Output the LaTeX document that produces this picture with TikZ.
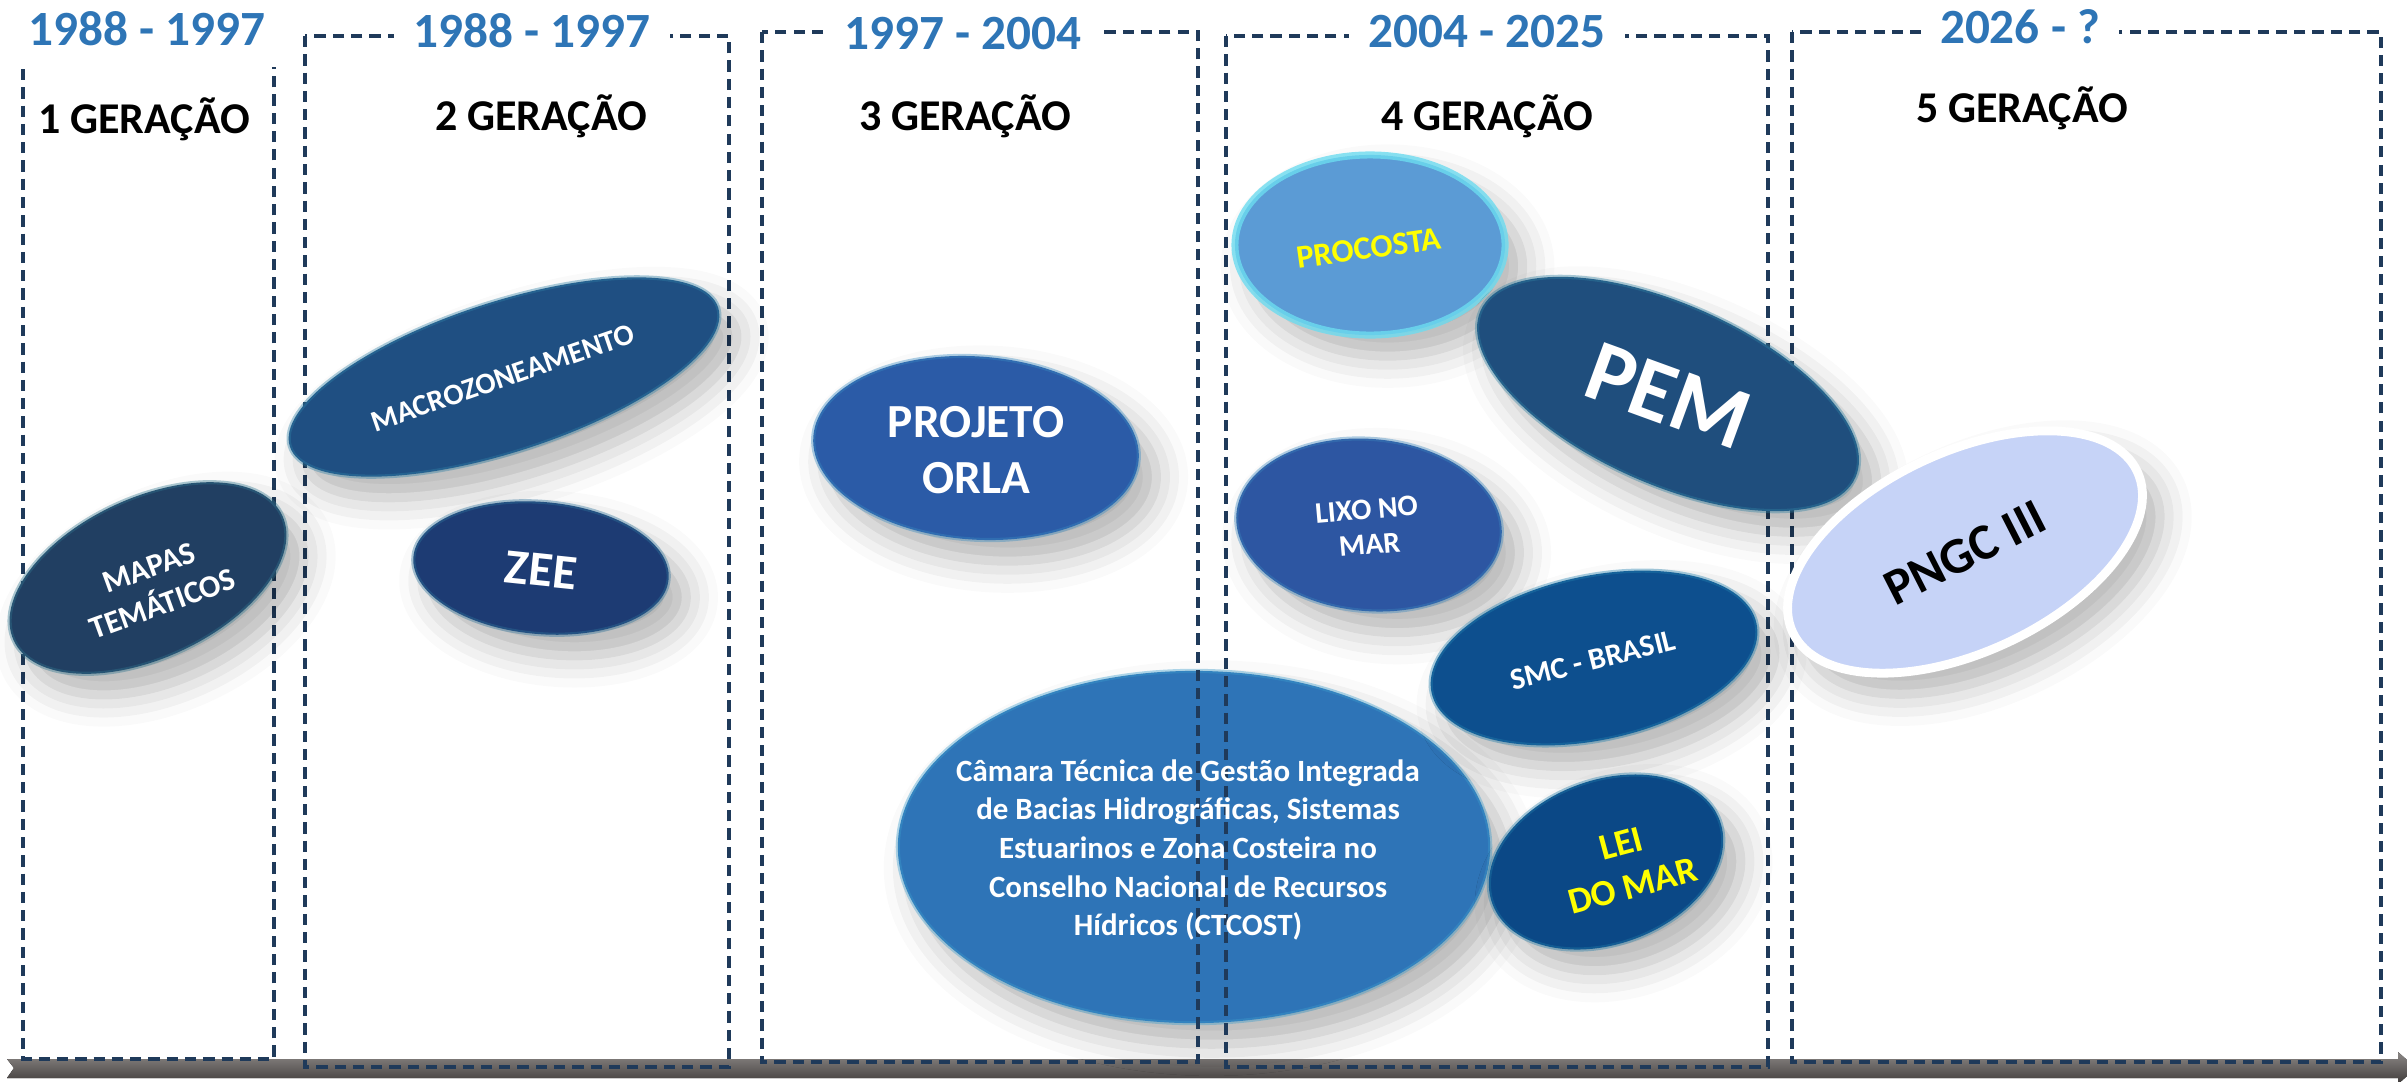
\documentclass[tikz,border=0pt]{standalone}
\usepackage{fontspec}
\setmainfont{Carlito}
\usetikzlibrary{shapes.geometric,shadows.blur}

\definecolor{cperiodo}{HTML}{2E75B6}
\definecolor{ctracejado}{HTML}{1F3A5A}
\definecolor{cmapas}{HTML}{213F62}
\definecolor{cmacro}{HTML}{1F4F82}
\definecolor{czee}{HTML}{1D3B73}
\definecolor{corla}{HTML}{2B5BA7}
\definecolor{cprocosta}{HTML}{5B9BD5}
\definecolor{cpem}{HTML}{1F4E7D}
\definecolor{clixo}{HTML}{2D56A2}
\definecolor{csmc}{HTML}{0D4F8E}
\definecolor{cctcost}{HTML}{2E74B7}
\definecolor{clei}{HTML}{0B4886}
\definecolor{cpngc}{HTML}{C6D3F7}
\definecolor{amarelo}{HTML}{FFFF00}
\definecolor{barra1}{HTML}{8C8886}
\definecolor{barra2}{HTML}{4E4947}
\definecolor{barra3}{HTML}{3E3A39}

\tikzset{
  caixa/.style={draw=ctracejado, line width=0.9pt, dash pattern=on 3.2pt off 2pt},
  periodo/.style={font=\bfseries\fontsize{14}{17}\selectfont, text=cperiodo,
    fill=white, inner xsep=5.5pt, inner ysep=1pt, anchor=base},
  geracao/.style={font=\bfseries\fontsize{12.5}{15}\selectfont, anchor=base},
  bolha/.style={ellipse, fill=#1, draw=#1!80!cyan!90!white, draw opacity=0.4, line width=1.2pt, inner sep=0pt,
    blur shadow={shadow xshift=5pt, shadow yshift=-6pt, shadow blur radius=9pt, shadow opacity=30}},
  rotulo/.style={text=white, align=center, inner sep=0pt},
}

\begin{document}
\begin{tikzpicture}[x=0.01cm, y=-0.01cm]
    \clip (0,0) rectangle (2407,1081);

    % 时间轴
    \fill[top color=barra1, middle color=barra2, bottom color=barra3]
        (7,1059) -- (2398,1059) -- (2398,1052) -- (2416,1068) -- (2398,1084)
        -- (2398,1078) -- (7,1078) -- (14,1068) -- cycle;

    % 大椭圆（虚线在上面）
    \node[bolha=cctcost, minimum width=5.92cm, minimum height=3.52cm] (ctcost) at (1194,847) {};

    % 第1代
    \draw[caixa] (23,69) -- (23,1059) -- (274,1059) -- (274,67);
    \node[periodo, fill=none] (p1) at (147,45) {1988 - 1997};
    \node[geracao] (g1) at (144,133) {1 GERAÇÃO};

    % 第2代
    \draw[caixa] (305,36) rectangle (729,1067);
    \node[periodo] (p2) at (532,47) {1988 - 1997};
    \node[geracao] (g2) at (541,130) {2 GERAÇÃO};

    % 第3代
    \draw[caixa] (762,32) rectangle (1198,1062);
    \node[periodo] (p3) at (963,49) {1997 - 2004};
    \node[geracao] (g3) at (965,130) {3 GERAÇÃO};

    % 第4代
    \draw[caixa] (1226,36) rectangle (1768,1067);
    \node[periodo] (p4) at (1487,47) {2004 - 2025};
    \node[geracao] (g4) at (1487,130) {4 GERAÇÃO};

    % 第5代
    \draw[caixa] (1792,32) rectangle (2381,1062);
    \node[periodo] (p5) at (2020,43) {2026 - ?};
    \node[geracao] (g5) at (2022,122) {5 GERAÇÃO};

    % 椭圆
    \node[bolha=cmapas, minimum width=2.96cm, minimum height=1.6cm, rotate=25] (mapas) at (148,578) {};
    \node[bolha=cmacro, minimum width=4.5cm, minimum height=1.5cm, rotate=18] (macro) at (504,377) {};
    \node[bolha=czee, minimum width=2.56cm, minimum height=1.32cm, rotate=-5] (zee) at (541,568) {};
    \node[bolha=corla, minimum width=3.26cm, minimum height=1.83cm, rotate=-4] (orla) at (976,448) {};
    \node[bolha=cprocosta, draw=cprocosta!50!cyan!70!white, draw opacity=0.8, line width=2pt,
        minimum width=2.7cm, minimum height=1.8cm] (procosta) at (1370,245) {};
    \node[bolha=cpem, minimum width=4.1cm, minimum height=1.8cm, rotate=-24] (pem) at (1668,394) {};
    \node[bolha=clixo, minimum width=2.66cm, minimum height=1.72cm, rotate=-5] (lixo) at (1369,525) {};
    \node[bolha=csmc, minimum width=3.32cm, minimum height=1.64cm, rotate=12] (smc) at (1594,658) {};
    \node[bolha=clei, minimum width=2.42cm, minimum height=1.64cm, rotate=20] (lei) at (1606,862) {};
    \node[bolha=cpngc, draw=white, draw opacity=1, line width=2.5pt, minimum width=3.8cm, minimum height=2cm, rotate=25] (pngc) at (1965,552) {};

    % 文字
    \node[rotulo, font=\bfseries\fontsize{9}{11}\selectfont, rotate=20] (mapas-t) at (156,586) {MAPAS\\TEMÁTICOS};
    \node[rotulo, font=\bfseries\fontsize{8.5}{10}\selectfont, rotate=19] (macro-t) at (503,378) {MACROZONEAMENTO};
    \node[rotulo, font=\bfseries\fontsize{14}{16}\selectfont, rotate=-6] (zee-t) at (541,570) {ZEE};
    \node[rotulo, font=\bfseries\fontsize{13.5}{16}\selectfont] (orla-t) at (976,450) {PROJETO\\ORLA};
    \node[rotulo, text=amarelo, font=\bfseries\fontsize{9.3}{11}\selectfont, rotate=8] (procosta-t) at (1369,248) {PROCOSTA};
    \node[rotulo, font=\bfseries\fontsize{25}{30}\selectfont, rotate=-20] (pem-t) at (1668,396) {PEM};
    \node[rotulo, font=\bfseries\fontsize{8.5}{10}\selectfont, rotate=5] (lixo-t) at (1368,527) {LIXO NO\\MAR};
    \node[rotulo, font=\bfseries\fontsize{8.7}{10}\selectfont, rotate=14] (smc-t) at (1593,660) {SMC - BRASIL};
    \node[rotulo, font=\bfseries\fontsize{8.8}{11}\selectfont] (ctcost-t) at (1188,850)
        {Câmara Técnica de Gestão Integrada\\de Bacias Hidrográficas, Sistemas\\Estuarinos e Zona Costeira no\\Conselho Nacional de Recursos\\Hídricos (CTCOST)};
    \node[rotulo, text=amarelo, font=\bfseries\fontsize{10.5}{12.5}\selectfont, rotate=15] (lei-t) at (1627,865) {LEI\\DO MAR};
    \node[rotulo, text=black, font=\bfseries\fontsize{14.5}{17}\selectfont, rotate=27] (pngc-t) at (1965,553) {PNGC III};
\end{tikzpicture}
\end{document}
